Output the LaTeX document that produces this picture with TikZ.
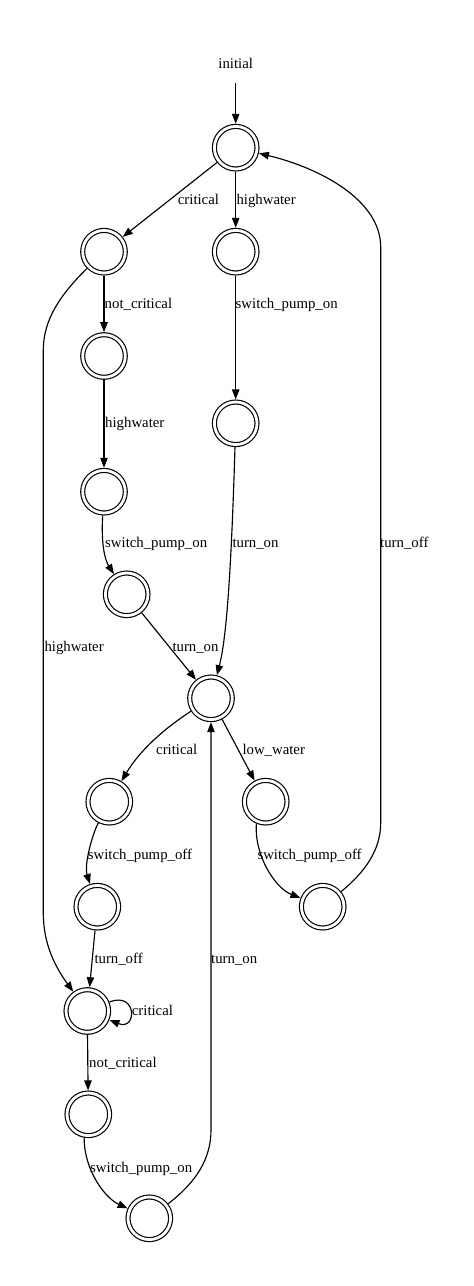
\documentclass[tikz,border=0pt]{standalone}
\usepackage{fontspec}
\setmainfont{Liberation Serif}
\usetikzlibrary{arrows.meta}
\begin{document}
\begin{tikzpicture}[x=1pt,y=1pt,
  state/.style={circle, draw, line width=1.15pt, double, double distance=2.8pt,
    minimum size=42.6pt, inner sep=0pt, outer sep=2.6pt},
  arr/.style={-{Triangle[length=10pt,width=7.5pt]}, line width=1.15pt},
  lbl/.style={inner sep=0pt, anchor=west, text height=10pt, text depth=3pt,
    yshift=-2pt, font=\fontsize{14.8}{17}\selectfont}]
\fill[white] (0,0) rectangle (474,-1286);
\useasboundingbox (0,0) rectangle (474,-1286);

% states
\node[state] (n0)  at (235.7,-147.7) {};
\node[state] (n1)  at (104,-251.7) {};
\node[state] (n2)  at (235.7,-251.7) {};
\node[state] (n3)  at (104,-356) {};
\node[state] (n4)  at (235.7,-423.3) {};
\node[state] (n5)  at (104,-491.7) {};
\node[state] (n6)  at (126.7,-594.3) {};
\node[state] (n7)  at (211,-698.3) {};
\node[state] (n8)  at (109.3,-801.7) {};
\node[state] (n9)  at (265.7,-801.7) {};
\node[state] (n10) at (97.3,-906.7) {};
\node[state] (n11) at (322.7,-906.7) {};
\node[state] (n12) at (87.3,-1011) {};
\node[state] (n13) at (88.3,-1114.3) {};
\node[state] (n14) at (149.3,-1218.3) {};

\node[lbl, anchor=center] (init) at (235.7,-63.3) {initial};

% helper coordinates for long edges
\coordinate (c11a) at (380.7,-823);
\coordinate (c11b) at (380.7,-247);
\coordinate (c1a) at (43.3,-350);
\coordinate (c1b) at (43.3,-913);
\coordinate (c14) at (211,-1130);

% edges
\draw[arr, shorten <=11pt] (init) -- (n0);
\draw[arr] (n0) -- (n1);
\draw[arr] (n0) -- (n2);
\draw[arr] (n1) -- (n3);
\draw[arr] (n2) -- (n4);
\draw[arr] (n3) -- (n5);
\draw[arr] (n5) .. controls (101,-545) and (105,-560) .. (n6);
\draw[arr] (n6) -- (n7);
\draw[arr] (n4) .. controls (231,-580) and (226,-640) .. (n7);
\draw[arr] (n7) .. controls (165,-728) and (140,-750) .. (n8);
\draw[arr] (n7) -- (n9);
\draw[arr] (n8) .. controls (92,-835) and (84,-865) .. (n10);
\draw[arr] (n9.-113) .. controls (254,-855) and (275,-888) .. (n11);
\draw[arr] (n11) .. controls (365,-872) and (380.7,-850) .. (c11a) -- (c11b)
  .. controls (380.7,-200) and (320,-168) .. (n0);
\draw[arr] (n1) .. controls (60,-295) and (43.3,-320) .. (c1a) -- (c1b)
  .. controls (43.3,-945) and (56,-968) .. (n12);
\draw[arr] (n10) -- (n12);
\draw[arr] (n12) to[out=22, in=-22, min distance=30pt] (n12);
\draw[arr] (n12) -- (n13);
\draw[arr] (n13.-100) .. controls (84,-1170) and (105,-1198) .. (n14);
\draw[arr] (n14) .. controls (195,-1183) and (211,-1160) .. (c14) -- (n7);

% labels
\node[lbl] (l01) at (177.7,-199.3) {critical};
\node[lbl] (l02) at (236.3,-199.3) {highwater};
\node[lbl] (l13) at (104.5,-303) {not\_critical};
\node[lbl] (l24) at (235.5,-303) {switch\_pump\_on};
\node[lbl] (l35) at (105,-422) {highwater};
\node[lbl] (l56) at (105,-541.7) {switch\_pump\_on};
\node[lbl] (l47) at (232.3,-541.7) {turn\_on};
\node[lbl] (l110) at (380,-541.7) {turn\_off};
\node[lbl] (l112) at (44.3,-645.7) {highwater};
\node[lbl] (l67) at (172.3,-645.7) {turn\_on};
\node[lbl] (l78) at (156,-749.3) {critical};
\node[lbl] (l79) at (242.3,-749.3) {low\_water};
\node[lbl] (l810) at (87.7,-854) {switch\_pump\_off};
\node[lbl] (l911) at (257.3,-854) {switch\_pump\_off};
\node[lbl] (l1012) at (94.3,-958.3) {turn\_off};
\node[lbl] (l147) at (211,-958.3) {turn\_on};
\node[lbl] (l1212) at (131.7,-1010) {critical};
\node[lbl] (l1213) at (89,-1062.3) {not\_critical};
\node[lbl] (l1314) at (90,-1166.7) {switch\_pump\_on};
\end{tikzpicture}
\end{document}
